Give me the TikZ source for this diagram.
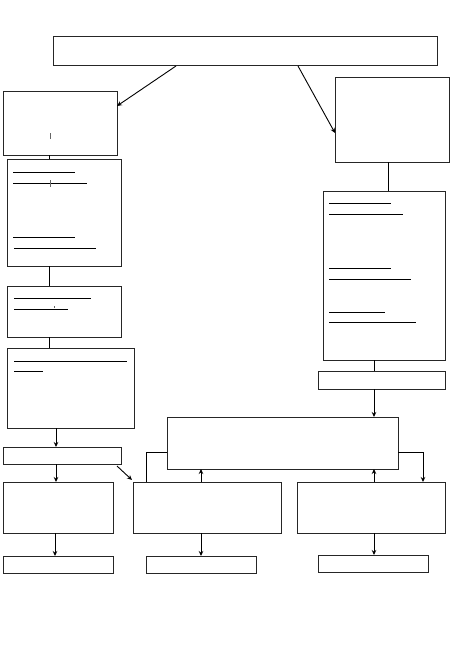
\documentclass[tikz,border=0pt]{standalone}
\usetikzlibrary{arrows.meta,calc}
\begin{document}
\begin{tikzpicture}[x=1pt,y=-1pt,
  box/.style={draw=black!85,line width=1pt,inner sep=0pt,outer sep=0pt,anchor=north west,fill=white},
  conn/.style={line width=0.9pt,black},
  arr/.style={conn,-{Stealth[length=5pt,width=4.5pt]}},
  uline/.style={line width=1pt,black},
  tick/.style={line width=0.8pt,black!60}]
\useasboundingbox[fill=white] (0,0) rectangle (459,650);
\newcommand{\bx}[5]{\node[box,minimum width={(#4-#2)*1pt},minimum height={(#5-#3)*1pt}] (#1) at (#2,#3) {};}
% boxes
\bx{top}{53}{37}{437}{66}
\bx{La}{3}{92}{117}{155}
\bx{Lb}{7}{159}{121}{266}
\bx{Lc}{7}{286}{121}{337}
\bx{Ld}{7}{348}{134}{428}
\bx{Le}{3}{447}{121}{464}
\bx{Ra}{335}{78}{449}{162}
\bx{Rb}{323}{191}{445}{360}
\bx{Rc}{318}{371}{445}{389}
\bx{Mid}{167}{417}{398}{469}
\bx{Bl}{3}{482}{113}{533}
\bx{Bm}{133}{482}{281}{533}
\bx{Br}{297}{482}{445}{533}
\bx{Sl}{3}{556}{113}{573}
\bx{Sm}{146}{556}{256}{573}
\bx{Sr}{318}{555}{428}{572}
% underlines
\draw[uline] (13,172) -- (75,172) (13,183) -- (87,183) (13,237) -- (75,237) (14,248) -- (96,248);
\draw[uline] (14,298) -- (91,298) (14,309) -- (68,309);
\draw[uline] (14,361) -- (127,361) (14,371) -- (43,371);
\draw[uline] (329,203) -- (391,203) (329,214) -- (403,214) (329,268) -- (391,268) (329,279) -- (411,279) (329,312) -- (385,312) (329,322) -- (416,322);
% small marks
\draw[tick] (50,133) -- (50,139);
\draw[tick] (50,180) -- (50,187);
\draw[tick] (54,306) -- (54,308);
% connectors
\draw[arr] (top.south west -| 176,0) -- (La.north east |- 0,106);
\draw[arr] (top.south west -| 298,0) -- (Ra.north west |- 0,133);
\draw[conn] (La.south west -| 49,0) -- (Lb.north west -| 49,0);
\draw[conn] (Lb.south west -| 49,0) -- (Lc.north west -| 49,0);
\draw[conn] (Lc.south west -| 49,0) -- (Ld.north west -| 49,0);
\draw[arr] (Ld.south west -| 56,0) -- (Le.north west -| 56,0);
\draw[arr] (Le.south west -| 56,0) -- (Bl.north west -| 56,0);
\draw[arr] ($(Le.south east)+(-4,2)$) -- ($(Bm.north west)+(-1,-2)$);
\draw[conn] (Ra.south west -| 388,0) -- (Rb.north west -| 388,0);
\draw[conn] (Rb.south west -| 374,0) -- (Rc.north west -| 374,0);
\draw[arr] (Rc.south west -| 374,0) -- (Mid.north west -| 374,0);
\draw[conn] (Mid.west |- 0,452) -| (Bm.north west -| 146,0);
\draw[arr] (Bm.north west -| 201,0) -- (Mid.south west -| 201,0);
\draw[arr] (Br.north west -| 374,0) -- (Mid.south west -| 374,0);
\draw[arr] (Mid.east |- 0,452) -| (Br.north west -| 423,0);
\draw[arr] (Bl.south west -| 55,0) -- (Sl.north west -| 55,0);
\draw[arr] (Bm.south west -| 201,0) -- (Sm.north west -| 201,0);
\draw[arr] (Br.south west -| 374,0) -- (Sr.north west -| 374,0);
\end{tikzpicture}
\end{document}
